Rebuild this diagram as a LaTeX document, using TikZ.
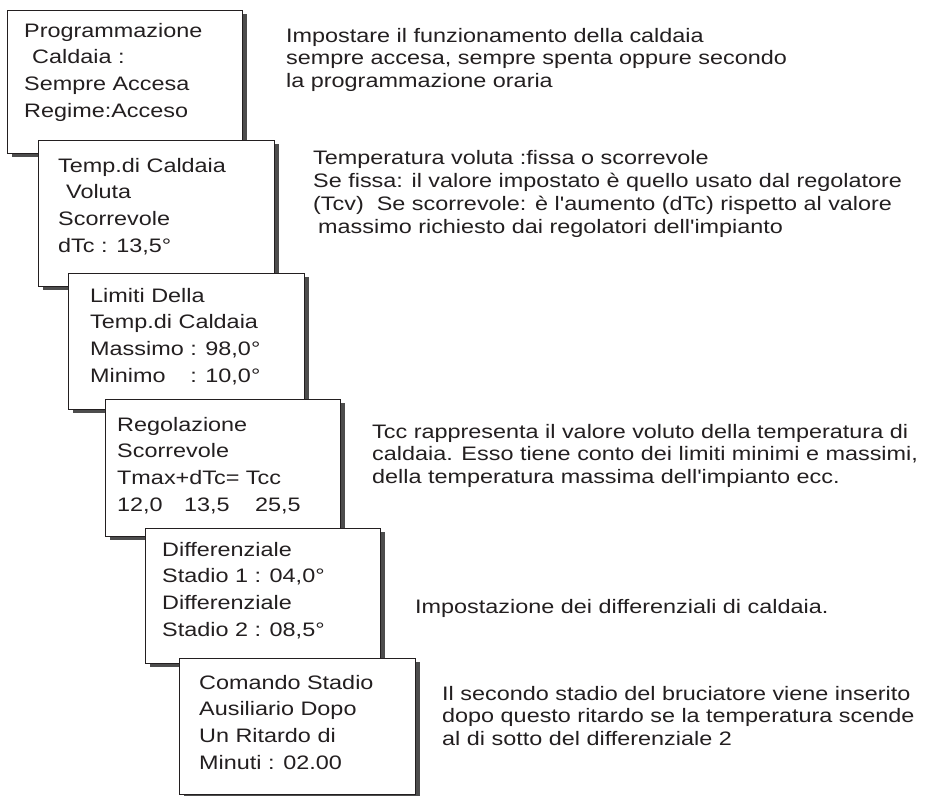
\documentclass[tikz,border=0pt]{standalone}
\usepackage{calc}
\usepackage{fontspec}
\newfontfamily\arialfont[FakeStretch=1.2]{Liberation Sans}
\definecolor{ink}{HTML}{231F20}
\definecolor{shade}{HTML}{4D4D4D}
\begin{document}
\begin{tikzpicture}[x=1pt,y=-1pt,
  shadowbox/.style={fill=shade,draw=none},
  panel/.style={fill=white,draw=ink,line width=1pt},
  boxtext/.style={anchor=base west,inner sep=0pt,align=left,text=ink,
    font=\arialfont\fontsize{19.5}{26.6}\selectfont},
  note/.style={anchor=base west,inner sep=0pt,align=left,text=ink,
    font=\arialfont\fontsize{19.5}{22.7}\selectfont}]
\useasboundingbox[fill=white] (0,0) rectangle (931,795);
% box 1
\fill[shadowbox] (12,14) rectangle (247,157);
\draw[panel] (7,10) rectangle (242,153);
\node[boxtext] (t1) at (24,117) {Programmazione\\\hspace*{8pt}Caldaia :\\Sempre Accesa\\Regime:Acceso};
% box 2
\fill[shadowbox] (43,144) rectangle (279,290);
\draw[panel] (38,140) rectangle (274,286);
\node[boxtext] (t2) at (58,252) {Temp.di Caldaia\\\hspace*{8pt}Voluta\\Scorrevole\\dTc : 13,5°};
% box 3
\fill[shadowbox] (73,277) rectangle (309,413);
\draw[panel] (68,273) rectangle (304,409);
\node[boxtext] (t3) at (90,382) {Limiti Della\\Temp.di Caldaia\\Massimo : 98,0°\\\makebox[\widthof{Massimo }][l]{Minimo}: 10,0°};
% box 4
\fill[shadowbox] (110,403) rectangle (345,540);
\draw[panel] (105,399) rectangle (340,536);
\node[boxtext] (t4) at (117,511) {Regolazione\\Scorrevole\\Tmax+dTc= Tcc\\\makebox[67pt][l]{12,0}\makebox[71pt][l]{13,5}25,5};
% box 5
\fill[shadowbox] (150,532) rectangle (385,667);
\draw[panel] (145,528) rectangle (380,663);
\node[boxtext] (t5) at (162,636) {Differenziale\\Stadio 1 : 04,0°\\Differenziale\\Stadio 2 : 08,5°};
% box 6
\fill[shadowbox] (184,662) rectangle (420,798);
\draw[panel] (179,658) rectangle (415,794);
\node[boxtext] (t6) at (199,769) {Comando Stadio\\Ausiliario Dopo\\Un Ritardo di\\Minuti : 02.00};
% notes
\node[note] (n1) at (286,87.4) {Impostare il funzionamento della caldaia\\sempre accesa, sempre spenta oppure secondo\\la programmazione oraria};
\node[note] (n2) at (313,233) {Temperatura voluta :fissa o scorrevole\\Se fissa: il valore impostato è quello usato dal regolatore\\(Tcv)\ \ Se scorrevole: è l'aumento (dTc) rispetto al valore\\\hspace*{5pt}massimo richiesto dai regolatori dell'impianto};
\node[note] (n3) at (372,483.4) {Tcc rappresenta il valore voluto della temperatura di\\caldaia. Esso tiene conto dei limiti minimi e massimi,\\della temperatura massima dell'impianto ecc.};
\node[note] (n4) at (415,613) {Impostazione dei differenziali di caldaia.};
\node[note] (n5) at (442,745.4) {Il secondo stadio del bruciatore viene inserito\\dopo questo ritardo se la temperatura scende\\al di sotto del differenziale 2};
\end{tikzpicture}
\end{document}
